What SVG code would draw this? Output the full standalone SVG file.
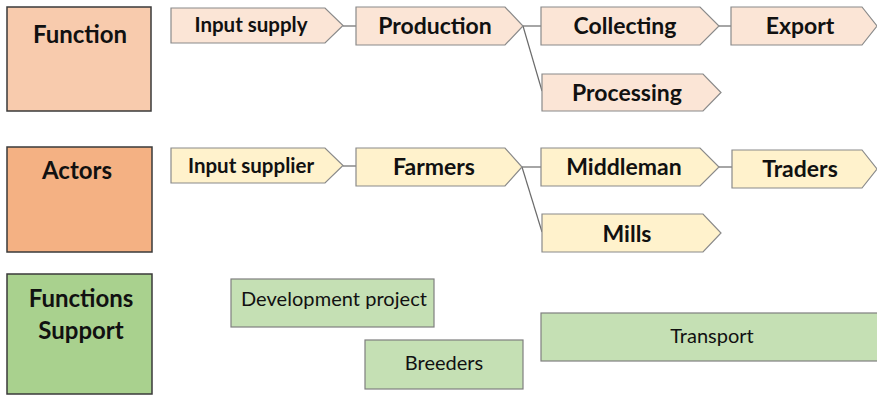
<svg xmlns="http://www.w3.org/2000/svg" width="877" height="395" viewBox="0 0 877 395">
<style>
text{font-family:Lato,"Open Sans","Liberation Sans",sans-serif;fill:#111;text-anchor:middle}
.big{stroke:#3a3a3a;stroke-width:1.5}
.ch{stroke:#8a8a8a;stroke-width:1.2}
.fn{fill:#FBE5D6}
.ac{fill:#FFF2CC}
.sp{fill:#C5E0B4;stroke:#7f7f7f;stroke-width:1.2}
.h{font-size:24px;font-weight:700}
.c{font-size:23px;font-weight:700}
.cs{font-size:20.5px;font-weight:700}
.s{font-size:20px}
.con{stroke:#6b6b6b;stroke-width:1.2;fill:none}
</style>
<g id="connectors">
<path class="con" d="M343 26H356"/>
<path class="con" d="M523 26H541"/>
<path class="con" d="M523 26L542 91"/>
<path class="con" d="M719 26H731"/>
<path class="con" d="M343 166H356"/>
<path class="con" d="M522 167H541"/>
<path class="con" d="M522 167L542 232"/>
<path class="con" d="M719 167H732"/>
</g>
<g id="function"><rect class="big" x="7" y="7" width="144" height="104" fill="#F8CBAD"/><text class="h" x="80" y="43">Function</text></g>
<g id="actors"><rect class="big" x="7" y="147" width="145" height="105" fill="#F4B183"/><text class="h" x="77" y="179">Actors</text></g>
<g id="functions-support"><rect class="big" x="7" y="274" width="145" height="120" fill="#A9D18E"/><text class="h" x="81" y="307">Functions</text><text class="h" x="81" y="339">Support</text></g>
<g id="input-supply"><path class="ch fn" d="M171 8H325L343 25.5L325 43H171Z"/><text class="cs" x="251" y="32">Input supply</text></g>
<g id="production"><path class="ch fn" d="M356 7H505L523 26L505 45H356Z"/><text class="c" x="435" y="34">Production</text></g>
<g id="collecting"><path class="ch fn" d="M541 7H700L719 26L700 45H541Z"/><text class="c" x="625" y="34">Collecting</text></g>
<g id="export"><path class="ch fn" d="M731 7H862L877 26L862 45H731Z"/><text class="c" x="800" y="34">Export</text></g>
<g id="processing"><path class="ch fn" d="M542 74H703L721 92.5L703 111H542Z"/><text class="c" x="627" y="101">Processing</text></g>
<g id="input-supplier"><path class="ch ac" d="M171 148H325L343 165.5L325 183H171Z"/><text class="cs" x="251" y="173">Input supplier</text></g>
<g id="farmers"><path class="ch ac" d="M356 148H505L522 167L505 186H356Z"/><text class="c" x="434" y="175">Farmers</text></g>
<g id="middleman"><path class="ch ac" d="M541 148H700L719 167L700 186H541Z"/><text class="c" x="624" y="175">Middleman</text></g>
<g id="traders"><path class="ch ac" d="M732 150H862L877 169L862 188H732Z"/><text class="c" x="800" y="177">Traders</text></g>
<g id="mills"><path class="ch ac" d="M542 214H703L721 233L703 252H542Z"/><text class="c" x="627" y="242">Mills</text></g>
<g id="development-project"><rect class="sp" x="231" y="279" width="203" height="48"/><text class="s" x="334" y="306" textLength="186" lengthAdjust="spacing">Development project</text></g>
<g id="breeders"><rect class="sp" x="365" y="340" width="158" height="49"/><text class="s" x="444" y="370">Breeders</text></g>
<g id="transport"><rect class="sp" x="541" y="313" width="340" height="48"/><text class="s" x="712" y="343">Transport</text></g>
</svg>
